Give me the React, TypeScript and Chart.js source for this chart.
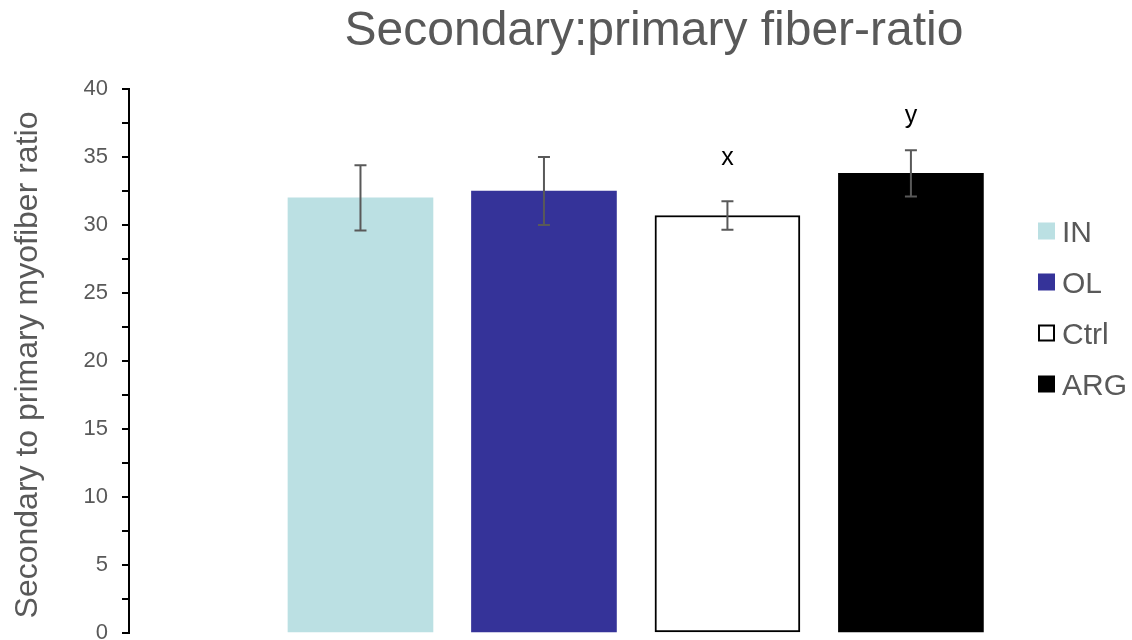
import { useEffect, useRef } from 'react';
import { Chart, registerables } from 'chart.js';

Chart.register(...registerables);

const CHART_TITLE = 'Secondary:primary fiber-ratio';
const Y_AXIS_TITLE = 'Secondary to primary myofiber ratio';
const CATEGORIES = ['IN', 'OL', 'Ctrl', 'ARG'];
const MEANS = [32.0, 32.5, 30.7, 33.8];
const ERRORS = [2.4, 2.5, 1.05, 1.7];
const LETTERS = ['', '', 'x', 'y'];
const Y_MIN = 0;
const Y_MAX = 40;
const Y_MINOR_STEP = 2.5;
const Y_LABEL_STEP = 5;

const FILLS = ['#BBE0E3', '#353399', '#FFFFFF', '#000000'];
const OUTLINES = ['#BBE0E3', '#353399', '#000000', '#000000'];
const OUTLINE_WIDTHS = [0, 0, 2, 0];

const FONT = '"Liberation Sans", Arial, sans-serif';
const GREY = '#595959';

const overlayPlugin = {
  id: 'overlay',
  afterDatasetsDraw(chart: any) {
    const { ctx } = chart;
    const xs = chart.scales.x;
    const ys = chart.scales.y;
    ctx.save();
    ctx.strokeStyle = GREY;
    ctx.lineWidth = 2;
    CATEGORIES.forEach((_, i) => {
      const x = xs.getPixelForValue(i + 1);
      const yt = ys.getPixelForValue(MEANS[i] + ERRORS[i]);
      const yb = ys.getPixelForValue(MEANS[i] - ERRORS[i]);
      ctx.beginPath();
      ctx.moveTo(x, yt);
      ctx.lineTo(x, yb);
      ctx.moveTo(x - 6, yt);
      ctx.lineTo(x + 6, yt);
      ctx.moveTo(x - 6, yb);
      ctx.lineTo(x + 6, yb);
      ctx.stroke();
    });
    ctx.fillStyle = '#000000';
    ctx.font = `25px ${FONT}`;
    ctx.textAlign = 'center';
    ctx.textBaseline = 'alphabetic';
    LETTERS.forEach((l, i) => {
      if (!l) return;
      const x = xs.getPixelForValue(i + 1);
      const y = ys.getPixelForValue(MEANS[i]) - 50;
      ctx.fillText(l, x, y);
    });
    ctx.restore();
  },
  afterDraw(chart: any) {
    const { ctx } = chart;
    ctx.save();
    ctx.fillStyle = GREY;
    ctx.font = `48px ${FONT}`;
    ctx.textAlign = 'center';
    ctx.textBaseline = 'alphabetic';
    ctx.fillText(CHART_TITLE, 654, 45);
    ctx.save();
    ctx.translate(37, 365);
    ctx.rotate(-Math.PI / 2);
    ctx.font = `32px ${FONT}`;
    ctx.fillText(Y_AXIS_TITLE, 0, 0);
    ctx.restore();
    ctx.font = `30px ${FONT}`;
    ctx.textAlign = 'left';
    CATEGORIES.forEach((c, i) => {
      const cy = 231 + i * 51;
      ctx.fillStyle = FILLS[i];
      ctx.fillRect(1038, cy - 8.5, 17, 17);
      if (OUTLINE_WIDTHS[i] > 0) {
        ctx.strokeStyle = OUTLINES[i];
        ctx.lineWidth = 2;
        ctx.strokeRect(1039, cy - 7.5, 15, 15);
      }
      ctx.fillStyle = GREY;
      ctx.fillText(c, 1062, cy + 10.8);
    });
    ctx.restore();
  },
};

export default function App() {
  const ref = useRef<HTMLCanvasElement | null>(null);

  useEffect(() => {
    if (!ref.current) return;
    const chart = new Chart(ref.current, {
      type: 'bar',
      data: {
        datasets: [
          {
            label: Y_AXIS_TITLE,
            data: CATEGORIES.map((_, i) => ({ x: i + 1, y: MEANS[i] })) as any,
            backgroundColor: FILLS,
            borderColor: OUTLINES,
            borderWidth: OUTLINE_WIDTHS,
            borderSkipped: false,
            barThickness: 145,
          } as any,
        ],
      },
      options: {
        animation: false,
        responsive: false,
        maintainAspectRatio: false,
        layout: { padding: { top: 89, right: 122, bottom: 7, left: 0 } },
        plugins: {
          legend: { display: false },
          title: { display: false },
          tooltip: { enabled: false },
        },
        scales: {
          x: {
            type: 'linear',
            min: -0.2616,
            max: 4.54,
            offset: false,
            display: false,
            afterBuildTicks: (s: any) => {
              s.ticks = CATEGORIES.map((_, i) => ({ value: i + 1 }));
            },
          },
          y: {
            min: Y_MIN,
            max: Y_MAX,
            ticks: {
              stepSize: Y_MINOR_STEP,
              autoSkip: false,
              padding: 14,
              color: GREY,
              font: { family: FONT, size: 22, lineHeight: 0.5 },
              callback: (v: any) => (Number(v) % Y_LABEL_STEP === 0 ? String(v) : ''),
            },
            grid: {
              display: true,
              drawOnChartArea: false,
              drawTicks: true,
              tickLength: 7,
              color: '#000000',
              lineWidth: 2,
            },
            border: { display: true, color: '#000000', width: 2 },
            afterFit: (s: any) => {
              s.width = 129;
              s.paddingTop = 0;
              s.paddingBottom = 0;
            },
          },
        },
      } as any,
      plugins: [overlayPlugin],
    });
    return () => chart.destroy();
  }, []);

  return (
    <div style={{ position: 'fixed', left: 0, top: 0, width: 1132, height: 640, background: '#fff' }}>
      <canvas ref={ref} width={1132} height={640} style={{ display: 'block', width: 1132, height: 640 }} />
    </div>
  );
}
